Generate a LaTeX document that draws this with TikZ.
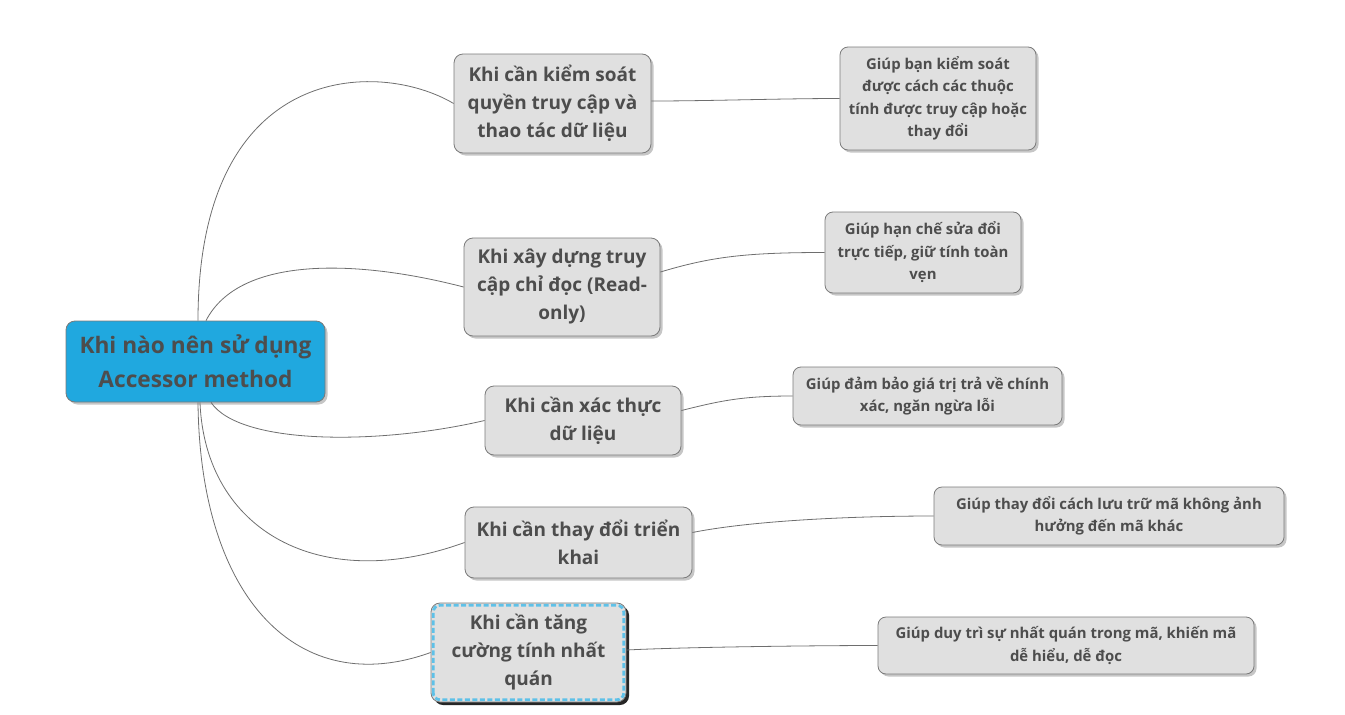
\documentclass[tikz,border=0pt]{standalone}
\usepackage{fontspec}
\setmainfont{Open Sans}
\usetikzlibrary{shadows}
\definecolor{RootBlue}{HTML}{20A8DF}
\definecolor{BoxGray}{HTML}{E0E0E0}
\definecolor{EdgeGray}{HTML}{7A7A7A}
\definecolor{TextGray}{HTML}{4D4D4D}
\definecolor{SelBlue}{HTML}{5EC1E8}

\begin{document}
\begin{tikzpicture}[x=1pt,y=1pt,
    box/.style={draw=EdgeGray, line width=0.8pt, fill=BoxGray, rounded corners=9pt,
      text=TextGray, align=center, inner sep=0pt},
    shade/.style={drop shadow={shadow xshift=2.5pt, shadow yshift=-2.5pt, opacity=0.45}},
    rootbox/.style={box, shade, fill=RootBlue, font=\bfseries\fontsize{22.7}{34}\selectfont},
    topic/.style={box, font=\bfseries\fontsize{19}{28}\selectfont},
    leaf/.style={box, shade, rounded corners=8pt, font=\bfseries\fontsize{14.9}{22.5}\selectfont},
    selframe/.style={draw=SelBlue, line width=2.8pt, rounded corners=7pt, dash pattern=on 5pt off 2.5pt},
    link/.style={draw=EdgeGray!90!black, line width=0.8pt}]
  \useasboundingbox (0,0) rectangle (1345,-715);

  % root and topics
  \node[rootbox, minimum width=259pt, minimum height=81pt] (root) at (195.5,-361.5)
    {Khi nào nên sử dụng\\Accessor method};
  \node[topic, shade, minimum width=197pt, minimum height=99pt] (b1) at (552.5,-103.5)
    {Khi cần kiểm soát\\quyền truy cập và\\thao tác dữ liệu};
  \node[topic, shade, minimum width=196pt, minimum height=98pt] (b2) at (562,-287)
    {Khi xây dựng truy\\cập chỉ đọc (Read-\\only)};
  \node[topic, shade, minimum width=196pt, minimum height=69pt] (b3) at (583,-420.5)
    {Khi cần xác thực\\dữ liệu};
  \node[topic, shade, minimum width=227pt, minimum height=71pt] (b4) at (578.5,-542.5)
    {Khi cần thay đổi triển\\khai};
  \node[topic, minimum width=195pt, minimum height=99pt,
    drop shadow={shadow xshift=3pt, shadow yshift=-3pt, fill=black!85, opacity=1}] (b5) at (528.5,-652.5)
    {Khi cần tăng\\cường tính nhất\\quán};
  \draw[selframe] ([shift={(2.6pt,2.6pt)}]b5.south west) rectangle ([shift={(-2.6pt,-2.6pt)}]b5.north east);

  % leaves
  \node[leaf, minimum width=196pt, minimum height=103pt] (l1) at (938,-98.5)
    {Giúp bạn kiểm soát\\được cách các thuộc\\tính được truy cập hoặc\\thay đổi};
  \node[leaf, minimum width=196pt, minimum height=81pt] (l2) at (923,-252.5)
    {Giúp hạn chế sửa đổi\\trực tiếp, giữ tính toàn\\vẹn};
  \node[leaf, minimum width=269pt, minimum height=58pt] (l3) at (927.5,-396)
    {Giúp đảm bảo giá trị trả về chính\\xác, ngăn ngừa lỗi};
  \node[leaf, minimum width=350pt, minimum height=58pt] (l4) at (1109,-516)
    {Giúp thay đổi cách lưu trữ mã không ảnh\\hưởng đến mã khác};
  \node[leaf, minimum width=376pt, minimum height=57pt] (l5) at (1066,-645.5)
    {Giúp duy trì sự nhất quán trong mã, khiến mã\\dễ hiểu, dễ đọc};

  % root to topics
  \draw[link] ([xshift=2.5pt]root.north) .. controls +(0,261) and +(-74,44) .. (b1.west);
  \draw[link] ([xshift=10.5pt]root.north) .. controls +(34,66) and +(-104,27) .. (b2.west);
  \draw[link] ([xshift=15.5pt]root.south) .. controls +(29,-43) and +(-105,-24.5) .. (b3.west);
  \draw[link] ([xshift=4.5pt]root.south) .. controls +(5,-128) and +(-145,-52.5) .. (b4.west);
  \draw[link] ([xshift=2.5pt]root.south) .. controls +(2,-198) and +(-131,-47.5) .. (b5.west);

  % topics to leaves
  \draw[link] ([yshift=2.5pt]b1.east) .. controls +(60,0) and +(-60,0) .. (l1.west);
  \draw[link] ([yshift=15pt]b2.east) .. controls +(50,15) and +(-80,0) .. (l2.west);
  \draw[link] ([yshift=10pt]b3.east) .. controls +(40,10) and +(-50,0) .. (l3.west);
  \draw[link] ([yshift=10pt]b4.east) .. controls +(60,12) and +(-80,0) .. (l4.west);
  \draw[link] ([yshift=2.5pt]b5.east) .. controls +(60,3) and +(-60,0) .. (l5.west);
\end{tikzpicture}
\end{document}
